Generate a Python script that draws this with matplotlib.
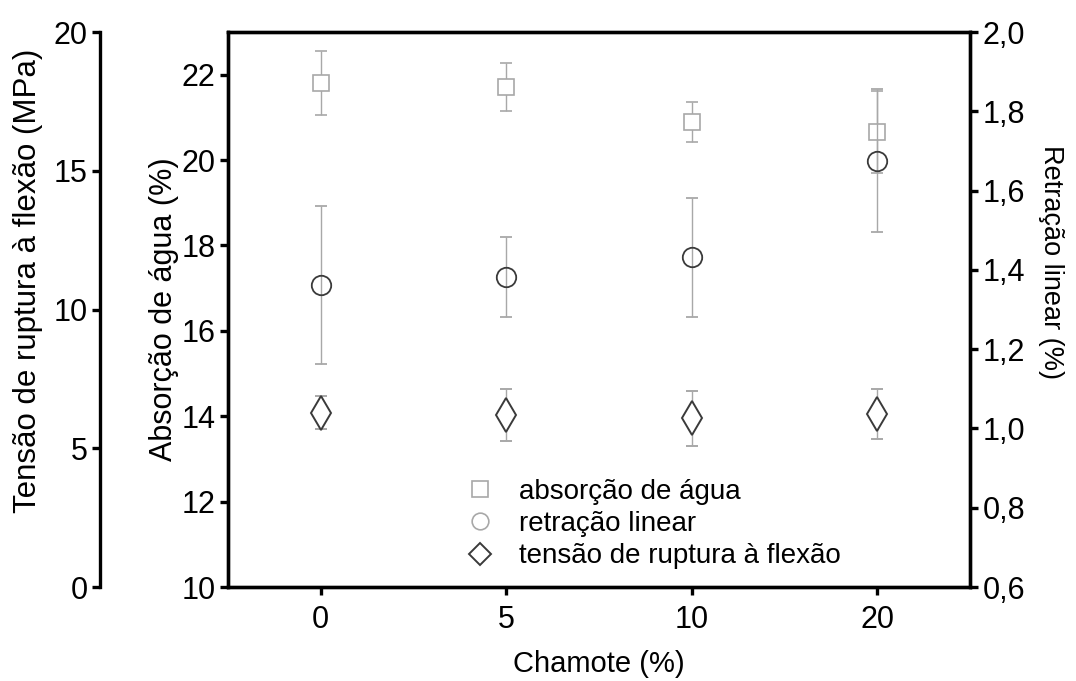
import matplotlib
matplotlib.use("Agg")
import matplotlib.pyplot as plt
from matplotlib.lines import Line2D

plt.rcParams['font.family'] = ['Liberation Sans', 'DejaVu Sans']

# dados
chamote = ['0', '5', '10', '20']
absorcao = [21.8, 21.71, 20.89, 20.66]
absorcao_err = [0.75, 0.57, 0.47, 0.96]
retracao = [1.362, 1.382, 1.432, 1.675]
retracao_err = [0.20, 0.10, 0.15, 0.18]
tensao = [6.28, 6.2, 6.08, 6.23]
tensao_err = [0.6, 0.94, 1.0, 0.9]

x = list(range(len(chamote)))

fig = plt.figure(figsize=(10.76, 6.81), dpi=100)
ax = fig.add_axes([0.2119, 0.138, 0.6896, 0.815])
ax2 = ax.twinx()
ax3 = ax.twinx()

light = '#a8a8a8'
dark = '#3a3a3a'
lw_sp = 2.4

ax.errorbar(x, absorcao, yerr=absorcao_err, fmt='s', ms=11, mfc='white',
            mec=light, mew=1.2, ecolor=light, elinewidth=1.0, capsize=4, capthick=1.0)
ax2.errorbar(x, retracao, yerr=retracao_err, fmt='o', ms=14, mfc='none',
             mec=dark, mew=1.3, ecolor=light, elinewidth=1.0, capsize=4, capthick=1.0)
ax3.errorbar(x, tensao, yerr=tensao_err, fmt='d', ms=17, mfc='white',
             mec=dark, mew=1.4, ecolor=light, elinewidth=1.0, capsize=4, capthick=1.0)

ax.set_xlim(-0.5, 3.5)
ax.set_ylim(10, 23)
ax.set_yticks([10, 12, 14, 16, 18, 20, 22])
ax.set_xticks(x)
ax.set_xticklabels(chamote)
ax2.set_ylim(0.6, 2.0)
ax2.set_yticks([0.6, 0.8, 1.0, 1.2, 1.4, 1.6, 1.8, 2.0])
ax2.set_yticklabels(['0,6', '0,8', '1,0', '1,2', '1,4', '1,6', '1,8', '2,0'])
ax3.set_ylim(0, 20)
ax3.set_yticks([0, 5, 10, 15, 20])

for s in ax.spines.values():
    s.set_linewidth(lw_sp)
for s in ax2.spines.values():
    s.set_linewidth(lw_sp)

# eixo extra a esquerda
for k in ['top', 'bottom', 'right']:
    ax3.spines[k].set_visible(False)
ax3.spines['left'].set_visible(True)
ax3.spines['left'].set_position(('outward', 92))
ax3.spines['left'].set_linewidth(lw_sp)
ax3.yaxis.set_ticks_position('left')
ax3.yaxis.set_label_position('left')

for a in (ax, ax2, ax3):
    a.tick_params(labelsize=22, width=lw_sp, length=6, direction='out', pad=3)
ax.tick_params(axis='x', pad=7)

ax.set_xlabel('Chamote (%)', fontsize=21, labelpad=11)
ax.set_ylabel('Absorção de água (%)', fontsize=22, labelpad=2)
ax2.set_ylabel('Retração linear (%)', fontsize=19.5, rotation=-90)
ax3.set_ylabel('Tensão de ruptura à flexão (MPa)', fontsize=22.5)
ax3.yaxis.set_label_coords(-0.25, 0.551)
ax2.yaxis.set_label_coords(1.126, 0.586)

handles = [
    Line2D([], [], ls='none', marker='s', ms=11, mfc='white', mec=light, mew=1.2),
    Line2D([], [], ls='none', marker='o', ms=12, mfc='white', mec=light, mew=1.2),
    Line2D([], [], ls='none', marker='D', ms=11, mfc='white', mec=dark, mew=1.4),
]
labels = ['absorção de água', 'retração linear', 'tensão de ruptura à flexão']
ax.legend(handles, labels, loc='lower left', bbox_to_anchor=(0.272, -0.008),
          frameon=False, fontsize=20, handletextpad=0.4, labelspacing=0.22,
          borderpad=0.3)

fig.savefig('out.png', dpi=100)
